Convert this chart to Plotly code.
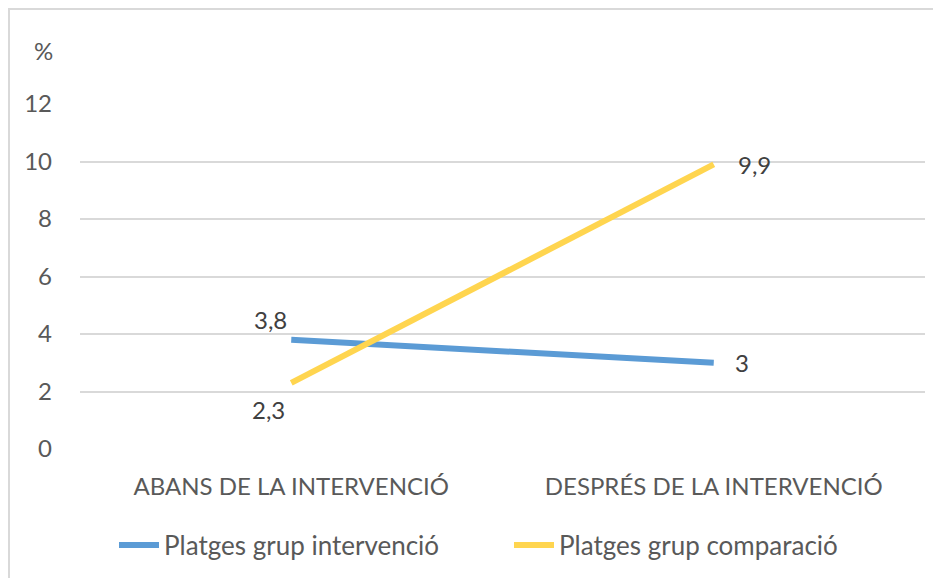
import plotly.graph_objects as go

categories = ["ABANS DE LA INTERVENCIÓ", "DESPRÉS DE LA INTERVENCIÓ"]
series_names = ["Platges grup intervenció", "Platges grup comparació"]
intervencio = [3.8, 3.0]
comparacio = [2.3, 9.9]
y_ticks = [0, 2, 4, 6, 8, 10, 12]

def fmt(v):
    s = ("%g" % v)
    return s.replace(".", ",")

FONT = "Lato"
GREY = "#595959"
OFF = 8  # page body margin
W, H = 941, 578
# plot area in page pixels: x 80..925, y 104..449
L = 80 - OFF
T = 104 - OFF
R = W - (925 - OFF)
B = H - (449 - OFF)
pw, ph = W - L - R, H - T - B

def px(x):
    return (x - OFF - L) / pw

def py(y):
    return (H - B - (y - OFF)) / ph

fig = go.Figure()
fig.add_trace(go.Scatter(
    x=categories, y=intervencio, name=series_names[0], mode="lines",
    line=dict(color="#5B9BD5", width=6),
))
fig.add_trace(go.Scatter(
    x=categories, y=comparacio, name=series_names[1], mode="lines",
    line=dict(color="#FFD54F", width=6),
))

label_shifts = {
    0: [(-21, 20), (28, 0)],
    1: [(-23, -27), (41, 0)],
}
annotations = []
for si, vals in enumerate([intervencio, comparacio]):
    for pi, v in enumerate(vals):
        dx, dy = label_shifts[si][pi]
        annotations.append(dict(
            x=categories[pi], y=v, xref="x", yref="y", text=fmt(v), showarrow=False,
            xanchor="center", yanchor="middle",
            xshift=dx, yshift=dy, font=dict(family=FONT, size=24, color="#404040")))

annotations.append(dict(text="%", x=px(43), y=py(50), xref="paper", yref="paper",
                        xanchor="center", yanchor="middle",
                        showarrow=False, font=dict(family=FONT, size=24, color=GREY)))

fig.update_layout(
    width=W, height=H,
    margin=dict(l=L, r=R, t=T, b=B, autoexpand=False),
    paper_bgcolor="white", plot_bgcolor="white",
    font=dict(family=FONT, color=GREY),
    showlegend=True,
    legend=dict(orientation="h", x=px(114), xanchor="left", y=py(545), yanchor="middle",
                font=dict(family=FONT, size=26, color=GREY), itemwidth=40,
                entrywidth=340, traceorder="normal"),
    xaxis=dict(range=[-0.5, 1.5], showgrid=False, showline=False, zeroline=False,
               automargin=False,
               tickfont=dict(family=FONT, size=24, color=GREY), ticklabelstandoff=21),
    yaxis=dict(range=[0, 12], tickvals=y_ticks, showgrid=True, gridcolor="#D9D9D9",
               gridwidth=2, zeroline=False, showline=False, automargin=False,
               tickfont=dict(family=FONT, size=24, color=GREY), ticklabelstandoff=27),
    annotations=annotations,
    shapes=[dict(type="rect", xref="paper", yref="paper", x0=px(9), x1=px(960),
                 y0=py(600), y1=py(9), line=dict(color="#D9D9D9", width=2),
                 fillcolor="rgba(0,0,0,0)", layer="below")],
)

fig.write_html("out.html")
